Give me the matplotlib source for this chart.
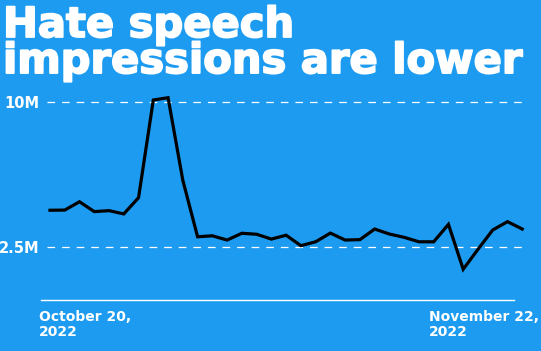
import matplotlib
matplotlib.use("Agg")
import matplotlib.pyplot as plt
import matplotlib.patheffects as pe

# ---- data (millions of hate-speech impressions per day) ----
day_index = list(range(33))
impressions_m = [4.40, 4.41, 4.84, 4.33, 4.38, 4.21, 5.05, 10.10, 10.22, 5.95,
                 3.03, 3.08, 2.86, 3.21, 3.16, 2.91, 3.11, 2.57, 2.77, 3.22,
                 2.86, 2.88, 3.43, 3.17, 3.00, 2.77, 2.77, 3.67, 1.35, 2.38,
                 3.38, 3.81, 3.43]
ytick_values = [2.5, 10]
ytick_labels = ["2.5M", "10M"]
x_labels = ["October 20,\n2022", "November 22,\n2022"]
title_text = "Hate speech\nimpressions are lower"

BG = "#1D9BF0"
W, H = 541, 351
DPI = 100

plt.rcParams["lines.scale_dashes"] = False
fig = plt.figure(figsize=(W / DPI, H / DPI), dpi=DPI, facecolor=BG)

# axes geometry in pixels (from top-left)
ax_left, ax_right, ax_top, ax_bottom = 41, 528, 95, 300
ax = fig.add_axes([ax_left / W, 1 - ax_bottom / H,
                   (ax_right - ax_left) / W, (ax_bottom - ax_top) / H])
ax.set_facecolor(BG)

ax.set_xlim(-0.61, 32.39)
ax.set_ylim(-0.24, 10.36)

# gridlines
for v in ytick_values:
    ax.axhline(v, xmin=0.012, xmax=1.0, color="white", lw=0.9,
               dashes=(5.5, 5.0), zorder=1)

ax.plot(day_index, impressions_m, color="black", lw=2.3,
        solid_joinstyle="miter", zorder=3)

for s in ["top", "right", "left"]:
    ax.spines[s].set_visible(False)
ax.spines["bottom"].set_color("white")
ax.spines["bottom"].set_linewidth(1.0)
ax.spines["bottom"].set_bounds(-0.61, 31.44)

ax.set_yticks(ytick_values)
ax.set_yticklabels(ytick_labels)
ax.tick_params(axis="y", length=0, pad=1, labelsize=10.5, labelcolor="white")
for t in ax.get_yticklabels():
    t.set_fontweight("bold")
ax.set_xticks([])

# x labels
lab_kw = dict(color="white", fontsize=10, fontweight="bold", ha="left",
              va="top", linespacing=1.05)
fig.text(39 / W, 1 - 310 / H, x_labels[0], **lab_kw)
fig.text(429 / W, 1 - 310 / H, x_labels[1], **lab_kw)

# title (single text object, two lines)
fig.text(3 / W, 1 - 4 / H, title_text, color="white", fontsize=30,
         fontweight="bold", family="DejaVu Sans", ha="left", va="top",
         linespacing=0.82,
         path_effects=[pe.withStroke(linewidth=1.3, foreground="white")])

fig.savefig("out.png", dpi=DPI, facecolor=BG)
